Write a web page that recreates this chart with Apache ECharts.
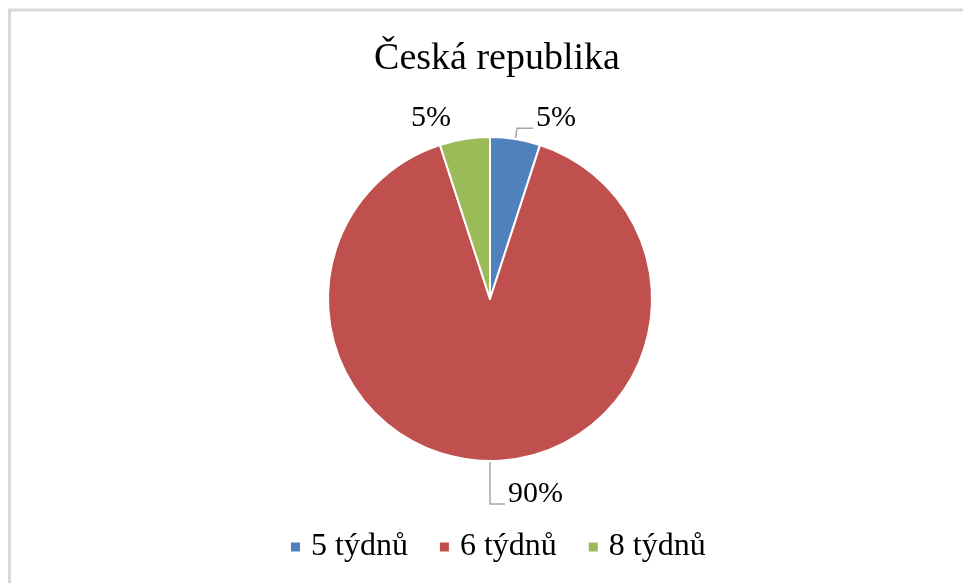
<!DOCTYPE html>
<html>
<head>
<meta charset="utf-8">
<style>
  html, body { margin: 0; padding: 0; background: #fff; }
  #chart { width: 963px; height: 583px; }
</style>
<script src="https://cdn.jsdelivr.net/npm/echarts@6/dist/echarts.min.js"></script>
</head>
<body>
<div id="chart"></div>
<script>
// Podíl délky období (v týdnech) – Česká republika
const titleText = 'Česká republika';
const categories = ['5 týdnů', '6 týdnů', '8 týdnů'];
const shares = [5, 90, 5];
const sliceColors = ['#4F81BD', '#C0504D', '#9BBB59'];

// leader line geometry per slice (radial part, horizontal part, visible)
const leaderStyles = [
  { length: 11, length2: 16, show: true },
  { length: 43, length2: 15, show: true },
  { length: 11, length2: 9, show: false }
];

const serif = '"Liberation Serif", "Times New Roman", serif';

const chart = echarts.init(document.getElementById('chart'), null, { renderer: 'canvas' });

const pieData = categories.map((name, i) => ({
  name: name,
  value: shares[i],
  itemStyle: { color: sliceColors[i] },
  labelLine: {
    show: leaderStyles[i].show,
    length: leaderStyles[i].length,
    length2: leaderStyles[i].length2
  }
}));

chart.setOption({
  backgroundColor: '#ffffff',
  animation: false,
  title: {
    text: titleText,
    left: 497,
    textAlign: 'center',
    top: 40,
    padding: 0,
    textStyle: {
      fontFamily: serif,
      fontSize: 38,
      fontWeight: 'normal',
      color: '#000000'
    }
  },
  legend: {
    data: categories,
    left: 289,
    top: 531,
    padding: 0,
    itemWidth: 11,
    itemHeight: 11,
    itemGap: 30,
    icon: 'rect',
    selectedMode: false,
    textStyle: {
      fontFamily: serif,
      fontSize: 32,
      color: '#000000',
      padding: [0, 0, 0, 5]
    }
  },
  graphic: [{
    type: 'rect',
    shape: { x: 9.5, y: 10, width: 1200, height: 1200 },
    style: { fill: 'none', stroke: '#D9D9D9', lineWidth: 3 },
    silent: true,
    z: -1
  }],
  series: [{
    type: 'pie',
    center: [490, 299],
    radius: [0, 162],
    startAngle: 90,
    clockwise: true,
    avoidLabelOverlap: false,
    itemStyle: { borderColor: '#ffffff', borderWidth: 2 },
    label: {
      show: true,
      position: 'outside',
      // trailing empty line lifts the value above the end of its leader line
      formatter: '{d}%\n',
      fontFamily: serif,
      fontSize: 30,
      lineHeight: 20,
      color: '#000000',
      distanceToLabelLine: 3
    },
    labelLine: {
      show: true,
      lineStyle: { color: '#A6A6A6', width: 1.5 }
    },
    emphasis: { disabled: true },
    data: pieData
  }]
});
</script>
</body>
</html>
